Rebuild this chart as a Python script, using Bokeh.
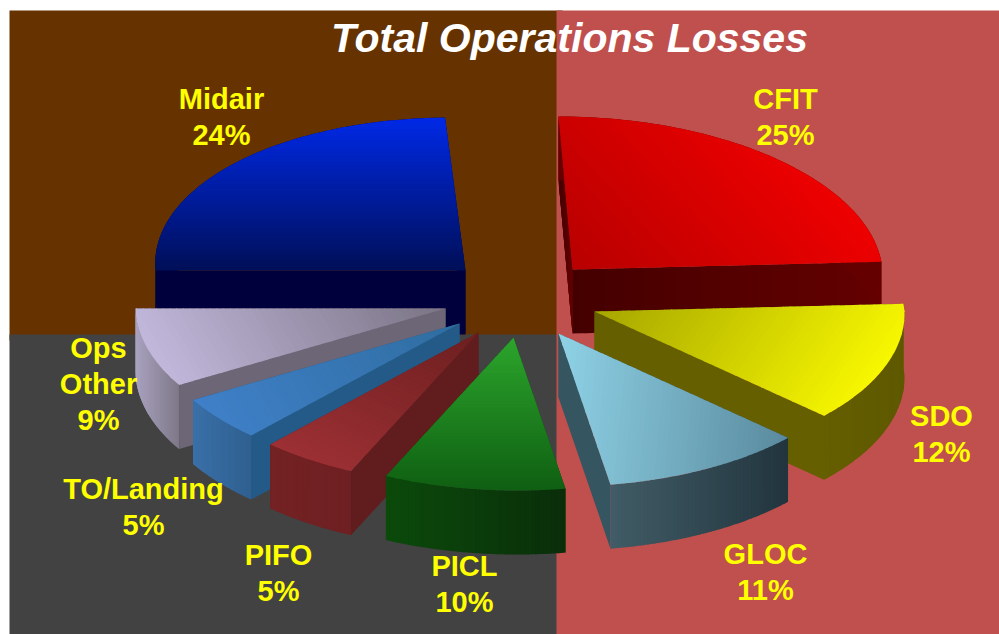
import numpy as np
from bokeh.core.properties import value
from bokeh.embed import file_html
from bokeh.models import ColumnDataSource, Range1d
from bokeh.plotting import figure
from bokeh.resources import INLINE

# ---- data -------------------------------------------------------------
categories = ["CFIT", "SDO", "GLOC", "PICL", "PIFO", "TO/Landing", "Ops Other", "Midair"]
shares = [25, 12, 11, 10, 5, 5, 9, 24]
title_text = "Total Operations Losses"

# ---- layout / style ---------------------------------------------------
W, H = 999, 634
RX, RY, SKEW_BACK, SKEW_FRONT, DEPTH = 310, 153, 14, 4, 64
apex = {"CFIT": (572, 269), "SDO": (594, 311), "GLOC": (558, 333), "PICL": (513, 337),
        "PIFO": (478, 332), "TO/Landing": (459, 323), "Ops Other": (445, 308), "Midair": (465, 270)}
nudge = {"CFIT": -2, "SDO": 1.1, "GLOC": 0, "PICL": -1.7, "PIFO": -1.6, "TO/Landing": -2.4,
         "Ops Other": -4.5, "Midair": -1.2}
top_style = {
    "CFIT": ("#b80000", "#ee0000", (1, -0.9)),
    "SDO": ("#a6a600", "#f8f800", (1, 0.7)),
    "GLOC": ("#8fd2e6", "#5a8a9e", (1, 0.1)),
    "PICL": ("#2ca52c", "#0f5f12", (0, 1)),
    "PIFO": ("#6e1f20", "#9c3034", (-0.5, 1)),
    "TO/Landing": ("#2f6da0", "#3f80c8", (-1, 0.6)),
    "Ops Other": ("#7a7484", "#c2b8dc", (-1, 0.6)),
    "Midair": ("#0029e6", "#000f58", (0, 1)),
}
# radial wall (left colour, right colour), outer wall start and end colours
side_style = {
    "CFIT": (("#440000", "#640000"), "#640000", "#640000"),
    "SDO": (("#655f00", "#655f00"), "#655f00", "#5e5800"),
    "GLOC": (("#355560", "#355560"), "#415c66", "#22353e"),
    "PICL": (("#0c3f0c", "#0c3f0c"), "#0b4a0b", "#0a2e0a"),
    "PIFO": (("#611d1e", "#611d1e"), "#6f2022", "#742224"),
    "TO/Landing": (("#245a88", "#245a88"), "#2f6090", "#3a70a8"),
    "Ops Other": (("#6c6676", "#6c6676"), "#7e7888", "#aaa3c0"),
    "Midair": (("#00003c", "#00003c"), "#00003c", "#00003c"),
}
draw_order = ["Midair", "CFIT", "SDO", "Ops Other", "TO/Landing", "PIFO", "PICL", "GLOC"]
NBANDS = 48

total = sum(shares)
ends = np.cumsum(shares) / total * 360
angles = {}
prev = 0.0
for c, e in zip(categories, ends):
    angles[c] = (prev, e + nudge[c])
    prev = e + nudge[c]


def rgb(h):
    return np.array([int(h[i:i + 2], 16) for i in (1, 3, 5)], float)


def mix(a, b, t):
    v = rgb(a) * (1 - t) + rgb(b) * t
    return "#%02x%02x%02x" % tuple(int(round(x)) for x in v)


def arc(c, t0, t1, dy=0):
    ax, ay = apex[c]
    th = np.radians(np.linspace(t0, t1, 80))
    cs = np.cos(th)
    skew = np.where(cs > 0, SKEW_BACK, SKEW_FRONT)
    x = ax + RX * np.sin(th) - skew * cs
    y = ay + dy - RY * cs
    return list(zip(x, y))


def clip(poly, u, lim, keep_above):
    out = []
    n = len(poly)
    for i in range(n):
        p, q = poly[i], poly[(i + 1) % n]
        dp = p[0] * u[0] + p[1] * u[1] - lim
        dq = q[0] * u[0] + q[1] * u[1] - lim
        if not keep_above:
            dp, dq = -dp, -dq
        if dp >= 0:
            out.append(p)
        if (dp >= 0) != (dq >= 0):
            s = dp / (dp - dq)
            out.append((p[0] + s * (q[0] - p[0]), p[1] + s * (q[1] - p[1])))
    return out


xs, ys, cols = [], [], []


def add(poly, color):
    xs.append([p[0] for p in poly])
    ys.append([p[1] for p in poly])
    cols.append(color)


def add_gradient(poly, c0, c1, u, n=NBANDS):
    if c0 == c1:
        add(poly, c0)
        return
    u = np.array(u, float) / np.hypot(*u)
    t = [p[0] * u[0] + p[1] * u[1] for p in poly]
    edges = np.linspace(min(t), max(t), n + 1)
    for i in range(n):
        part = clip(clip(poly, u, edges[i], True), u, edges[i + 1] + 0.8, False)
        if len(part) >= 3:
            add(part, mix(c0, c1, (i + 0.5) / n))


for c in draw_order:
    t0, t1 = angles[c]
    a = apex[c]
    wall, o0, o1 = side_style[c]
    top = arc(c, t0, t1)
    low = arc(c, t0, t1, DEPTH)
    for end in (top[0], top[-1]):
        add_gradient([a, end, (end[0], end[1] + DEPTH), (a[0], a[1] + DEPTH)], wall[0], wall[1], (1, 0))
    add_gradient(top + low[::-1], o0, o1, (1, 0) if t0 < 180 else (-1, 0))
    s0, s1, d = top_style[c]
    add_gradient([a] + top, s0, s1, d)

p = figure(width=W, height=H, x_range=Range1d(0, W), y_range=Range1d(H, 0),
           toolbar_location=None, output_backend="svg", min_border=0,
           outline_line_color=None, background_fill_color="white", border_fill_color="white")
p.xaxis.visible = False
p.yaxis.visible = False
p.grid.visible = False

# backdrop quadrants, overlapped and drawn in order so that no seam shows
p.quad(left=[9, 9, 556], right=[562, 562, W], top=[10, 334, 10], bottom=[340, H, H],
       fill_color=["#663300", "#424242", "#c0504d"], line_color=None)

p.patches("xs", "ys", source=ColumnDataSource(dict(xs=xs, ys=ys, c=cols)),
          fill_color="c", line_color=None)

label_lines = {"CFIT": ["CFIT"], "SDO": ["SDO"], "GLOC": ["GLOC"], "PICL": ["PICL"], "PIFO": ["PIFO"],
               "TO/Landing": ["TO/Landing"], "Ops Other": ["Ops", "Other"], "Midair": ["Midair"]}
label_pos = {"CFIT": (785, 98), "SDO": (941, 415), "GLOC": (765, 553), "PICL": (464, 565),
             "PIFO": (278, 554), "TO/Landing": (143, 488), "Ops Other": (98, 347), "Midair": (221, 98)}
LINE = 36
tx, ty, tt = [], [], []
for c, s in zip(categories, shares):
    x, y = label_pos[c]
    for ln in label_lines[c] + [f"{s}%"]:
        tx.append(x)
        ty.append(y)
        tt.append(ln)
        y += LINE
p.text(tx, ty, text=tt, text_color="#ffff00", text_align="center", text_baseline="middle",
       text_font=value("Liberation Sans"), text_font_style="bold", text_font_size="29px")

p.text([569], [37], text=[title_text], text_color="#ffffff", text_align="center",
       text_baseline="middle", text_font=value("Liberation Sans"),
       text_font_style="bold italic", text_font_size="41px")

open("out.html", "w").write(file_html(p, INLINE))
